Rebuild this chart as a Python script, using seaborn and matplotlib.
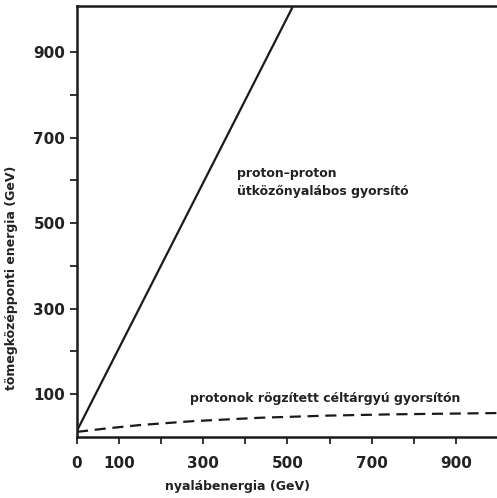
import seaborn as sns
import matplotlib.pyplot as plt
import pandas as pd

# beam energy (GeV) vs centre-of-mass energy (GeV)
collider_x = [0, 512]
collider_y = [15, 1005]
fixed_x = [0, 70, 150, 275, 435, 595, 750, 1000]
fixed_y = [12, 20, 28, 37, 45, 50, 53, 56]

df = pd.DataFrame({
    "x": collider_x + fixed_x,
    "y": collider_y + fixed_y,
    "kind": ["collider"] * len(collider_x) + ["fixed"] * len(fixed_x),
})

sns.set_style("ticks")
plt.rcParams['font.family'] = ['DejaVu Sans']
plt.rcParams['font.weight'] = 'bold'

fig = plt.figure(figsize=(4.97, 4.98), dpi=100)
ax = fig.add_axes([0.155, 0.1225, 0.845, 0.8655])

sns.lineplot(data=df, x="x", y="y", style="kind", color="#1a1a1a",
             dashes={"collider": "", "fixed": (5, 3)}, linewidth=1.6,
             legend=False, ax=ax, sort=False)

ax.set_xlim(0, 998)
ax.set_ylim(0, 1008)

xticks = list(range(0, 1000, 100))
xlabels = ["0", "100", "", "300", "", "500", "", "700", "", "900"]
ax.set_xticks(xticks)
ax.set_xticklabels(xlabels)
yticks = list(range(100, 1000, 100))
ylabels = ["100", "", "300", "", "500", "", "700", "", "900"]
ax.set_yticks(yticks)
ax.set_yticklabels(ylabels)
ax.tick_params(direction="out", length=5, width=1.3, labelsize=11, colors="#222222")
ax.tick_params(axis="x", pad=9)
for t in ax.get_xticklabels() + ax.get_yticklabels():
    t.set_fontweight("bold")

for side in ["left", "bottom", "top"]:
    ax.spines[side].set_visible(True)
    ax.spines[side].set_linewidth(1.8)
    ax.spines[side].set_color("#1a1a1a")
ax.spines["right"].set_visible(False)

ax.set_xlabel("nyalábenergia (GeV)", fontsize=9, fontweight="bold", color="#222222")
ax.xaxis.set_label_coords(0.383, -0.1)
ax.set_ylabel("tömegközépponti energia (GeV)", fontsize=9, fontweight="bold", color="#222222")
ax.yaxis.set_label_coords(-0.14, 0.37)

ax.text(380, 595, "proton–proton\nütközőnyalábos gyorsító", fontsize=9,
        fontweight="bold", color="#222222", va="center", ha="left", linespacing=1.4)
ax.text(268, 91, "protonok rögzített céltárgyú gyorsítón", fontsize=9,
        fontweight="bold", color="#222222", va="center", ha="left")

fig.savefig("out.png", dpi=100)
